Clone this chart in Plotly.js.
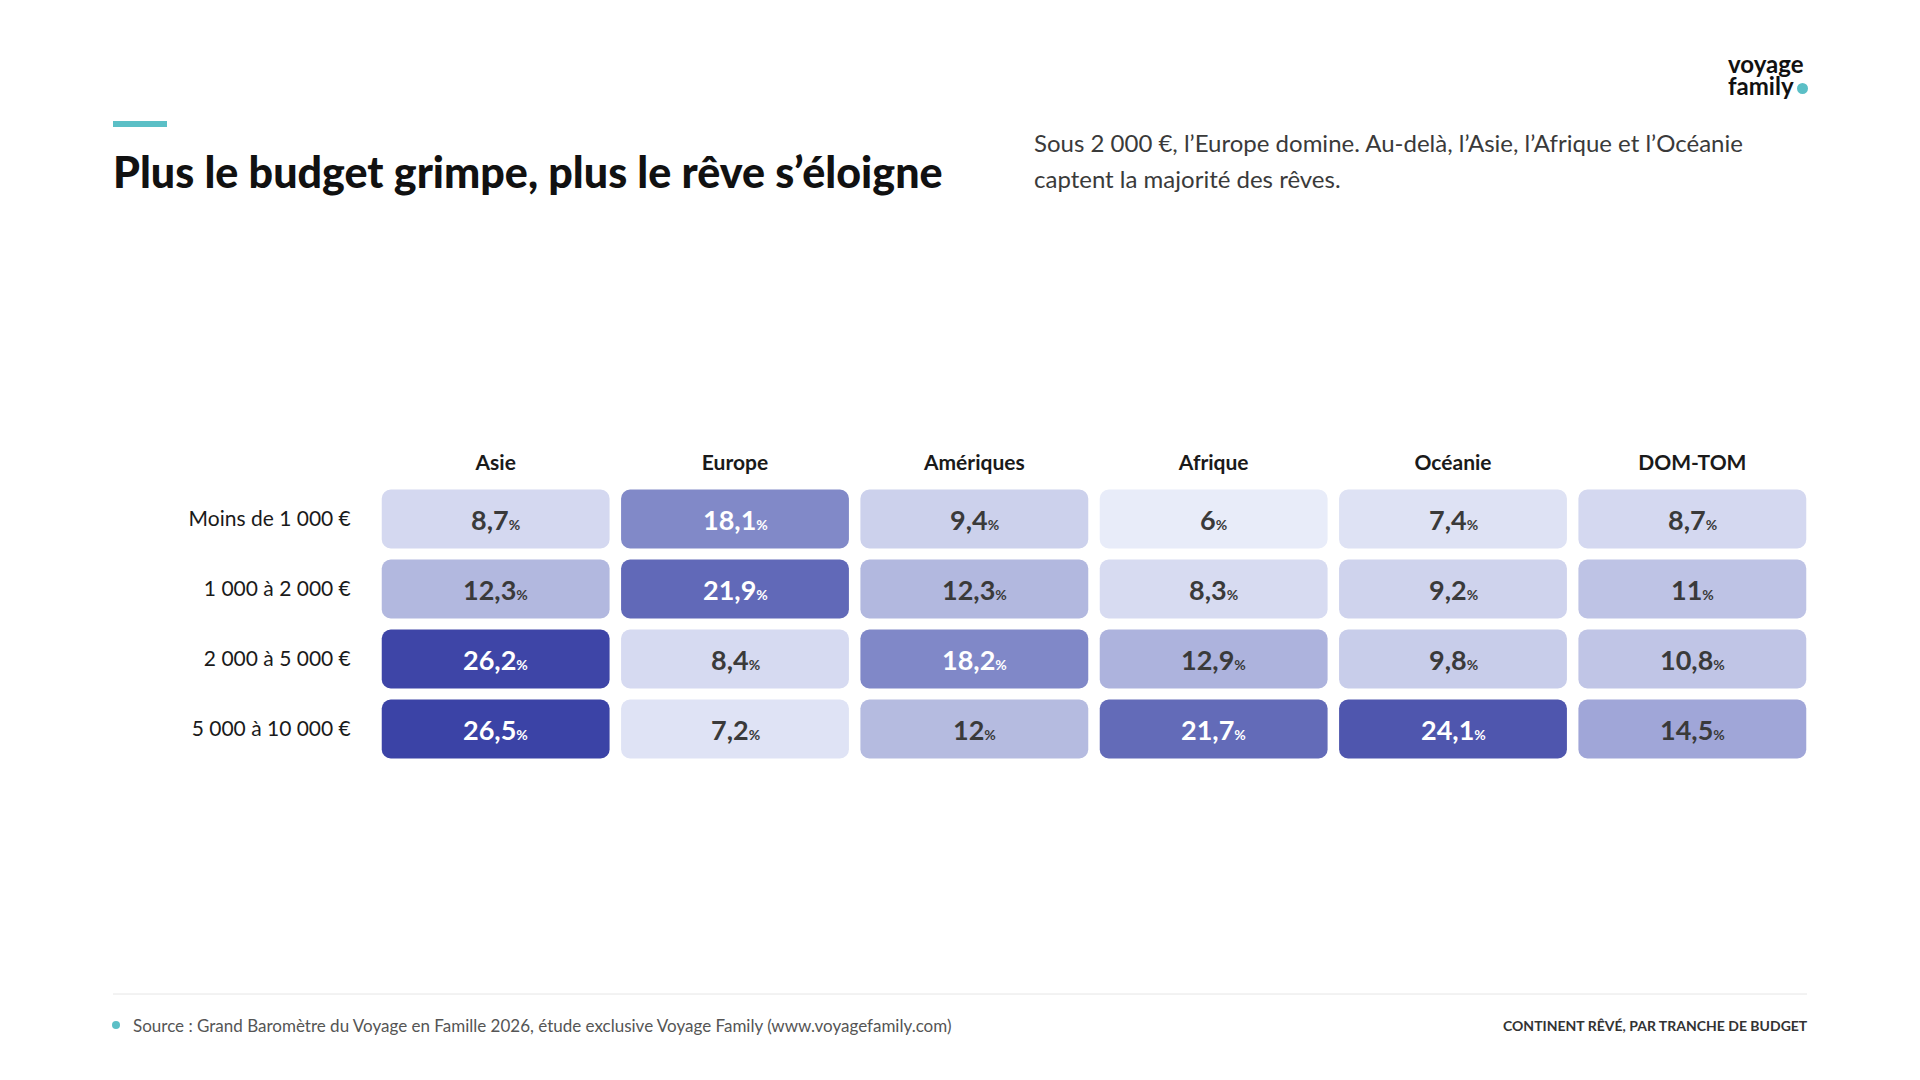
<!DOCTYPE html>
<html>
<head>
<meta charset="utf-8">
<script src="https://cdn.plot.ly/plotly-3.0.1.min.js"></script>
<style>
  html, body { margin: 0; padding: 0; background: #ffffff; }
  #chart { width: 1920px; height: 1080px; }
</style>
</head>
<body>
<div id="chart"></div>
<script>
// ---------- DATA ----------
const continents = ["Asie", "Europe", "Amériques", "Afrique", "Océanie", "DOM-TOM"];
const budgets = ["Moins de 1 000 €", "1 000 à 2 000 €", "2 000 à 5 000 €", "5 000 à 10 000 €"];
const asie      = [8.7, 12.3, 26.2, 26.5];
const europe    = [18.1, 21.9, 8.4, 7.2];
const ameriques = [9.4, 12.3, 18.2, 12];
const afrique   = [6, 8.3, 12.9, 21.7];
const oceanie   = [7.4, 9.2, 9.8, 24.1];
const domtom    = [8.7, 11, 10.8, 14.5];
const columns = [asie, europe, ameriques, afrique, oceanie, domtom];

const titleText = "Plus le budget grimpe, plus le rêve s’éloigne";
const subtitle1 = "Sous 2 000 €, l’Europe domine. Au-delà, l’Asie, l’Afrique et l’Océanie";
const subtitle2 = "captent la majorité des rêves.";
const sourceText = "Source : Grand Baromètre du Voyage en Famille 2026, étude exclusive Voyage Family (www.voyagefamily.com)";
const footerRight = "CONTINENT RÊVÉ, PAR TRANCHE DE BUDGET";

// ---------- STYLE ----------
const FONT = "Lato, 'Noto Sans', sans-serif";
const W = 1920, H = 1080;
const M = { l: 376, r: 108, t: 484, b: 316 };
const PW = W - M.l - M.r, PH = H - M.t - M.b;
const px = x => (x - M.l) / PW;           // pixel -> paper x
const py = y => (H - M.b - y) / PH;       // pixel -> paper y
const cellW = 0.952, cellH = 0.843;
const cmin = 6, cmax = 26.5;
const stop = v => (v - cmin) / (cmax - cmin);
const colorscale = [
  [stop(6), "#e8ecf9"], [stop(7.2), "#dfe3f5"], [stop(8.7), "#d4d8f0"],
  [stop(9.8), "#c8cdea"], [stop(11), "#bec3e5"], [stop(12.3), "#b2b8df"],
  [stop(14.5), "#a0a6d8"], [stop(18.2), "#8088c8"], [stop(21.8), "#626ab8"],
  [stop(24.1), "#4f56ae"], [stop(26.5), "#3b43a6"]
];
const TEAL = "#5bbfc6";

// ---------- TRACES ----------
const traces = columns.map((vals, j) => ({
  type: "bar",
  orientation: "h",
  y: budgets,
  x: budgets.map(() => cellW),
  base: budgets.map(() => j - cellW / 2),
  width: cellH,
  marker: { color: vals, colorscale: colorscale, cmin: cmin, cmax: cmax,
            cornerradius: 9, line: { width: 0 } },
  hoverinfo: "skip",
  showlegend: false
}));

const fmt = v => String(v).replace(".", ",");
const annotations = [];
columns.forEach((vals, j) => {
  vals.forEach((v, i) => {
    annotations.push({
      x: j, y: budgets[i], xref: "x", yref: "y", showarrow: false,
      text: "<b>" + fmt(v) + "<span style='font-size:14px'>%</span></b>",
      font: { family: FONT, size: 27, weight: 800, color: v > 15 ? "#ffffff" : "#3a3a3a" },
      xanchor: "center", yanchor: "middle"
    });
  });
});

// subtitle
annotations.push({ xref: "paper", yref: "paper", x: px(1032), y: py(143), xanchor: "left", yanchor: "middle",
  showarrow: false, text: subtitle1, font: { family: FONT, size: 24, color: "#3a3a3a" } });
annotations.push({ xref: "paper", yref: "paper", x: px(1032), y: py(179), xanchor: "left", yanchor: "middle",
  showarrow: false, text: subtitle2, font: { family: FONT, size: 24, color: "#3a3a3a" } });
// logo
annotations.push({ xref: "paper", yref: "paper", x: px(1726), y: py(63), xanchor: "left", yanchor: "middle",
  showarrow: false, text: "<b>voyage</b>", font: { family: FONT, size: 24, color: "#111111" } });
annotations.push({ xref: "paper", yref: "paper", x: px(1726), y: py(85), xanchor: "left", yanchor: "middle",
  showarrow: false, text: "<b>family</b>", font: { family: FONT, size: 24, color: "#111111" } });
// footer
annotations.push({ xref: "paper", yref: "paper", x: px(131), y: py(1025), xanchor: "left", yanchor: "middle",
  showarrow: false, text: sourceText, font: { family: FONT, size: 17, color: "#555555" } });
annotations.push({ xref: "paper", yref: "paper", x: px(1810), y: py(1025), xanchor: "right", yanchor: "middle",
  showarrow: false, text: "<b>" + footerRight + "</b>", font: { family: FONT, size: 14, color: "#333333" } });

const shapes = [
  // accent bar
  { type: "line", xref: "paper", yref: "paper", x0: px(113), x1: px(167), y0: py(124), y1: py(124),
    line: { color: TEAL, width: 6 } },
  // footer separator
  { type: "line", xref: "paper", yref: "paper", x0: px(113), x1: px(1807), y0: py(994), y1: py(994),
    line: { color: "#e6e6e6", width: 1 } },
  // footer dot
  { type: "circle", xref: "paper", yref: "paper", x0: px(112), x1: px(120), y0: py(1021), y1: py(1029),
    fillcolor: TEAL, line: { width: 0 } },
  // logo dot
  { type: "circle", xref: "paper", yref: "paper", x0: px(1797), x1: px(1808), y0: py(83), y1: py(94),
    fillcolor: TEAL, line: { width: 0 } }
];

const layout = {
  width: W, height: H,
  margin: M,
  paper_bgcolor: "#ffffff", plot_bgcolor: "#ffffff",
  barmode: "overlay",
  font: { family: FONT, color: "#1a1a1a" },
  title: {
    text: titleText,
    font: { family: FONT, size: 43, weight: 900, color: "#111111" },
    x: 113 / W, xref: "container", xanchor: "left",
    y: 1 - 173 / H, yref: "container", yanchor: "middle"
  },
  xaxis: {
    range: [-0.5, 5.5], side: "top", tickmode: "array",
    tickvals: continents.map((_, j) => j), ticktext: continents.map(c => "<b>" + c + "</b>"),
    tickfont: { family: FONT, size: 21, color: "#1a1a1a" },
    showgrid: false, zeroline: false, showline: false,
    ticks: "outside", ticklen: 5, tickcolor: "rgba(0,0,0,0)", fixedrange: true
  },
  yaxis: {
    type: "category", categoryarray: budgets, categoryorder: "array",
    range: [3.5, -0.5],
    tickfont: { family: FONT, size: 21, color: "#1a1a1a" },
    showgrid: false, zeroline: false, showline: false,
    ticks: "outside", ticklen: 20, tickcolor: "rgba(0,0,0,0)", fixedrange: true
  },
  annotations: annotations,
  shapes: shapes
};

Plotly.newPlot("chart", traces, layout, { displayModeBar: false, staticPlot: true });
</script>
</body>
</html>
